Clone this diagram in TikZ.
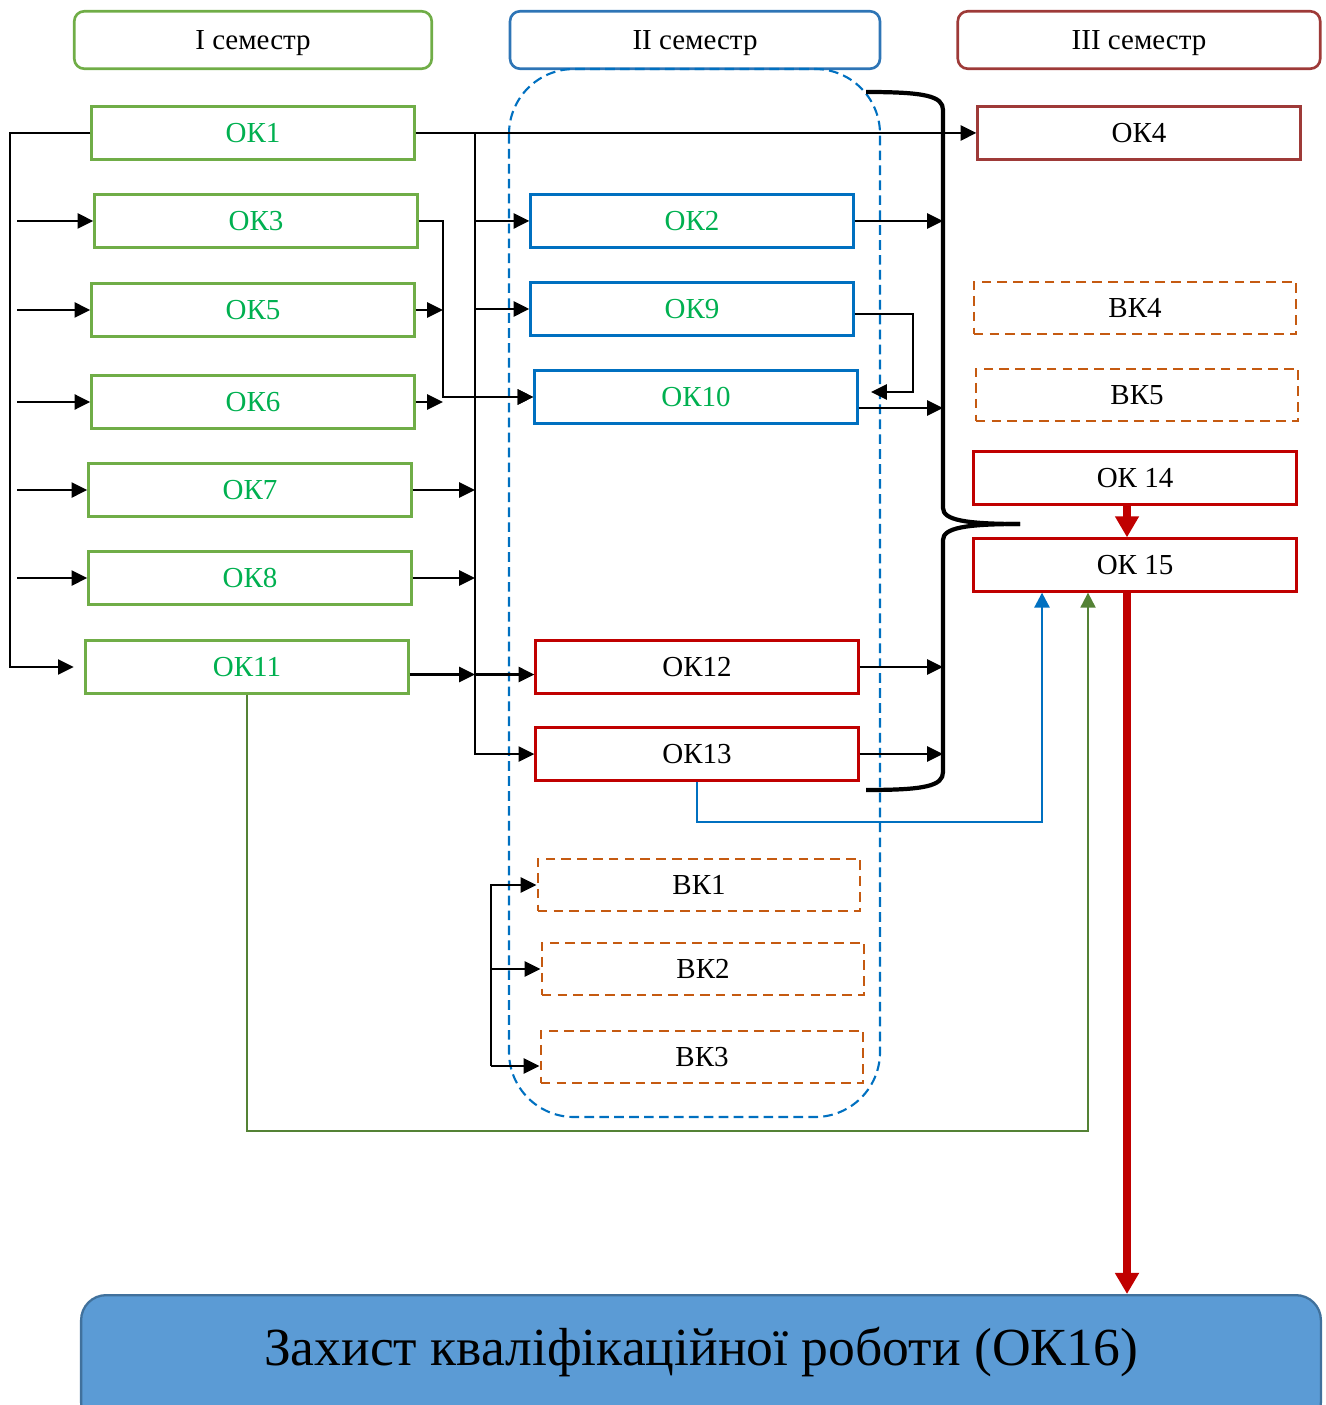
\documentclass[tikz,border=0pt]{standalone}
\usepackage{fontspec}
\setmainfont{Liberation Serif}
\usepackage{tikz}
\usetikzlibrary{arrows.meta,positioning}
\definecolor{semgreen}{RGB}{112,173,71}
\definecolor{txtgreen}{RGB}{0,176,80}
\definecolor{semblue}{RGB}{46,117,182}
\definecolor{okblue}{RGB}{0,112,192}
\definecolor{semred}{RGB}{158,58,56}
\definecolor{okred}{RGB}{192,0,0}
\definecolor{vkorange}{RGB}{197,90,17}
\definecolor{finalfill}{RGB}{91,155,213}
\definecolor{finaldraw}{RGB}{65,113,156}
\definecolor{linkgreen}{RGB}{84,130,53}
\tikzstyle{sem} = [draw, line width=1.5pt, rounded corners=0.2cm, minimum height=1.15cm, text depth=0pt, font=\fontsize{16.5}{19}\selectfont]
\tikzstyle{okbox} = [draw, line width=1.6pt, minimum width=6.45cm, minimum height=1.05cm, inner sep=0pt, font=\fontsize{16.5}{19}\selectfont]
\tikzstyle{okgreen} = [okbox, draw=semgreen, text=txtgreen]
\tikzstyle{okblue} = [okbox, draw=okblue, text=txtgreen]
\tikzstyle{okred} = [okbox, draw=okred]
\tikzstyle{vkbox} = [okbox, draw=vkorange, line width=1.4pt, dash pattern=on 5.5pt off 3.5pt]
\tikzstyle{arrow} = [line width=1.5pt, -{Triangle[length=9pt,width=8.5pt]}]
\tikzstyle{bigarrow} = [line width=4.5pt, color=okred, -{Triangle[length=12pt,width=13pt]}]
\tikzstyle{thinarrow} = [line width=1.2pt, -{Triangle[length=8.5pt,width=8.5pt]}]

\begin{document}
\begin{tikzpicture}[x=0.02cm, y=-0.02cm]
\useasboundingbox (0,0) rectangle (1325,1405);
% Semesters
\node[sem, draw=semgreen, minimum width=7.15cm] (sem1) at (253,40) {I семестр};
\node[sem, draw=semblue, minimum width=7.4cm] (sem2) at (695,40) {II семестр};
\node[sem, draw=semred, minimum width=7.25cm] (sem3) at (1139,40) {III семестр};

% Second semester frame
\draw[okblue, line width=1.2pt, dash pattern=on 5.5pt off 3pt, rounded corners=1.3cm] (509,69) rectangle (880,1117);

% First semester
\node[okgreen] (ok1) at (253,133) {ОК1};
\node[okgreen] (ok3) at (256,221) {ОК3};
\node[okgreen] (ok5) at (253,310) {ОК5};
\node[okgreen] (ok6) at (253,402) {ОК6};
\node[okgreen] (ok7) at (250,490) {ОК7};
\node[okgreen] (ok8) at (250,578) {ОК8};
\node[okgreen] (ok11) at (247,667) {ОК11};

% Second semester
\node[okblue] (ok2) at (692,221) {ОК2};
\node[okblue] (ok9) at (692,309) {ОК9};
\node[okblue] (ok10) at (696,397) {ОК10};
\node[okred] (ok12) at (697,667) {ОК12};
\node[okred] (ok13) at (697,754) {ОК13};
\node[vkbox] (vk1) at (699,885) {ВК1};
\node[vkbox] (vk2) at (703,969) {ВК2};
\node[vkbox] (vk3) at (702,1057) {ВК3};

% Third semester
\node[okbox, draw=semred] (ok4) at (1139,133) {ОК4};
\node[vkbox] (vk4) at (1135,308) {ВК4};
\node[vkbox] (vk5) at (1137,395) {ВК5};
\node[okred] (ok14) at (1135,478) {ОК 14};
\node[okred] (ok15) at (1135,565) {ОК 15};

% Final
\node[draw=finaldraw, fill=finalfill, line width=1.3pt, rounded corners=0.5cm, anchor=north, minimum width=24.8cm, minimum height=2.65cm, text height=0.75cm, text depth=0.6cm, font=\fontsize{30.5}{36}\selectfont] (final) at (701,1294) {Захист кваліфікаційної роботи (ОК16)};

% Helper coordinates
\coordinate (busL) at (10,0);
\coordinate (inL) at (17,0);
\coordinate (jn) at (443,0);
\coordinate (busR) at (475,0);
\coordinate (vb) at (491,0);
\coordinate (lp) at (913,0);
\coordinate (br) at (943,0);
\coordinate (bl) at (1042,822);
\coordinate (gr) at (1088,1131);
\coordinate (rx) at (1127,0);
\coordinate (ok11r) at ([yshift=-0.15cm]ok11.east);
\coordinate (ok12l) at ([yshift=-0.15cm]ok12.west);
\coordinate (ok9r) at ([yshift=-0.1cm]ok9.east);
\coordinate (ok10in) at ([yshift=0.1cm]ok10.east);
\coordinate (ok10out) at ([yshift=-0.22cm]ok10.east);
\coordinate (vk3l) at ([yshift=-0.18cm]vk3.west);

% Arrows, first semester
\draw[arrow, shorten >=6pt] (ok1.west) -- (busL |- ok1.west) -- (busL |- ok11.west) -- (ok11.west);
\foreach \n in {ok3,ok5,ok6,ok7,ok8}
  \draw[arrow] (inL |- \n.west) -- (\n.west);
\draw[arrow] (ok1.east) -- (ok4.west);
\draw[arrow] (busR |- ok1.east) -- (busR |- ok13.west) -- (ok13.west);
\foreach \n in {ok2,ok9,ok10}
  \draw[arrow] (busR |- \n.west) -- (\n.west);
\draw[arrow] (ok11r) -- (busR |- ok11r);
\draw[arrow] (busR |- ok12l) -- (ok12l);
\draw[arrow] (ok7.east) -- (busR |- ok7.east);
\draw[arrow] (ok8.east) -- (busR |- ok8.east);
\draw[arrow] (ok3.east) -| (jn |- ok10.west) -- (ok10.west);
\draw[arrow] (ok5.east) -- (jn |- ok5.east);
\draw[arrow] (ok6.east) -- (jn |- ok6.east);

% Arrows, second semester
\draw[arrow] (ok2.east) -- (br |- ok2.east);
\draw[arrow] (ok12.east) -- (br |- ok12.east);
\draw[arrow] (ok13.east) -- (br |- ok13.east);
\draw[arrow] (ok10out) -- (br |- ok10out);
\draw[arrow, shorten >=7pt] (ok9r) -| (lp |- ok10in) -- (ok10in);
\draw[arrow] (vb |- vk3l) -- (vb |- vk1.west) -- (vk1.west);
\draw[arrow] (vb |- vk2.west) -- (vk2.west);
\draw[arrow] (vb |- vk3l) -- (vk3l);

% Arrows to OK15 and final
\draw[bigarrow] (rx |- ok14.south) -- (rx |- ok15.north);
\draw[bigarrow] (rx |- ok15.south) -- (rx |- final.north);
\draw[thinarrow, okblue] (ok13.south) |- (bl) -- (bl |- ok15.south);
\draw[thinarrow, linkgreen] (ok11.south) |- (gr) -- (gr |- ok15.south);

% Brace
\draw[line width=2.4pt] (866,92) .. controls (925,92) and (943,96) .. (943,110) -- (943,508)
  .. controls (943,520) and (965,524) .. (1020,524);
\draw[line width=2.4pt] (1020,524) .. controls (965,524) and (943,528) .. (943,540) -- (943,772)
  .. controls (943,786) and (925,790) .. (866,790);
\end{tikzpicture}
\end{document}
